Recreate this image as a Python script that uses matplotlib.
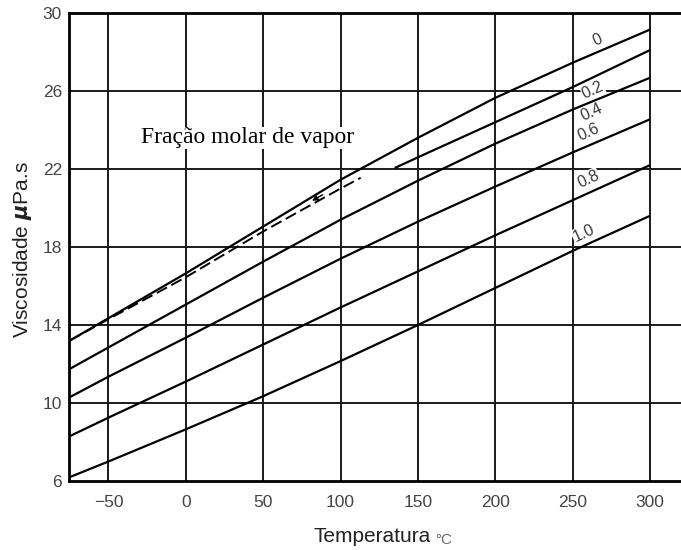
import numpy as np
import matplotlib
matplotlib.use("Agg")
import matplotlib.pyplot as plt

plt.rcParams['font.family'] = ['Liberation Sans', 'DejaVu Sans']
plt.rcParams['mathtext.fontset'] = 'dejavusans'

# temperatures (C) where the curves were read
temps = [-75, -50, 0, 50, 100, 150, 200, 250, 300]
visc_00 = [13.2, 14.35, 16.65, 19.05, 21.45, 23.6, 25.65, 27.45, 29.15]
visc_04 = [11.75, 12.85, 15.05, 17.25, 19.4, 21.4, 23.3, 25.05, 26.68]
visc_06 = [10.3, 11.35, 13.35, 15.4, 17.4, 19.3, 21.1, 22.85, 24.55]
visc_08 = [8.3, 9.25, 11.1, 13.0, 14.9, 16.75, 18.6, 20.4, 22.2]
visc_10 = [6.2, 7.0, 8.65, 10.35, 12.15, 14.0, 15.9, 17.8, 19.6]

# the 0.2 curve only starts at ~135 C
temps_02 = [135, 150, 200, 250, 300]
visc_02 = [22.05, 22.6, 24.4, 26.2, 28.1]

# dashed curve
temps_dash = [-75, -50, 0, 50, 100, 113]
visc_dash = [13.2, 14.3, 16.45, 18.8, 21.0, 21.55]

curve_labels = ["0", "0.2", "0.4", "0.6", "0.8", "1.0"]
label_x = [266, 263, 262, 260, 260, 257]
label_y = [28.6, 26.05, 24.9, 23.9, 21.5, 18.7]

x_ticks = [-50, 0, 50, 100, 150, 200, 250, 300]
y_ticks = [6, 10, 14, 18, 22, 26, 30]

fig = plt.figure(figsize=(6.81, 5.5), dpi=100)
ax = fig.add_axes([69 / 681, 1 - 481 / 550, 612 / 681, 468 / 550])

for xt in x_ticks:
    ax.axvline(xt, color="#1a1a1a", lw=1.4, zorder=1)
for yt in y_ticks[1:-1]:
    ax.axhline(yt, color="#1a1a1a", lw=1.4, zorder=1)

for xs, ys in [(temps, visc_00), (temps_02, visc_02), (temps, visc_04),
               (temps, visc_06), (temps, visc_08), (temps, visc_10)]:
    ax.plot(xs, ys, color="black", lw=1.6, zorder=3, solid_capstyle="butt")

ax.plot(temps_dash, visc_dash, color="black", lw=1.4, dashes=(6, 2.5), zorder=3)
ax.annotate("", xy=(80, 20.3), xytext=(90, 20.75),
            arrowprops=dict(arrowstyle="-|>", color="black", lw=1.0,
                            mutation_scale=8), zorder=4)

for lbl, lx, ly in zip(curve_labels, label_x, label_y):
    ax.text(lx, ly, lbl, fontsize=11.5, color="#3a3a3a", rotation=25,
            ha="center", va="center", zorder=5,
            bbox=dict(facecolor="white", edgecolor="none", pad=0.3))

ax.text(-29, 23.6, "Fração molar de vapor", family="Liberation Serif",
        fontsize=17, ha="left", va="center", zorder=5,
        bbox=dict(facecolor="white", edgecolor="none", pad=0.5))

ax.set_xlim(-75.5, 320)
ax.set_ylim(6, 30)
ax.set_xticks(x_ticks)
ax.set_yticks(y_ticks)
ax.set_xticklabels([str(v).replace("-", "\u2212") for v in x_ticks])
ax.tick_params(length=0, labelsize=12.5, labelcolor="#444444")
ax.tick_params(axis="x", pad=10)
ax.tick_params(axis="y", pad=5)
for s in ["left", "bottom", "top"]:
    ax.spines[s].set_linewidth(2.0)
ax.spines["right"].set_visible(False)

fig.text(23 / 681, 1 - 250 / 550, r"Viscosidade $\boldsymbol{\mu}$Pa.s",
         rotation=90, ha="center", va="center", fontsize=15, color="#222222")
fig.text(372 / 681, 1 - 537 / 550, "Temperatura", ha="center", va="center",
         fontsize=15, color="#222222")
fig.text(435 / 681, 1 - 540 / 550, "\u00b0C", ha="left", va="center",
         fontsize=11, color="#666666")

fig.savefig("out.png", dpi=100)
